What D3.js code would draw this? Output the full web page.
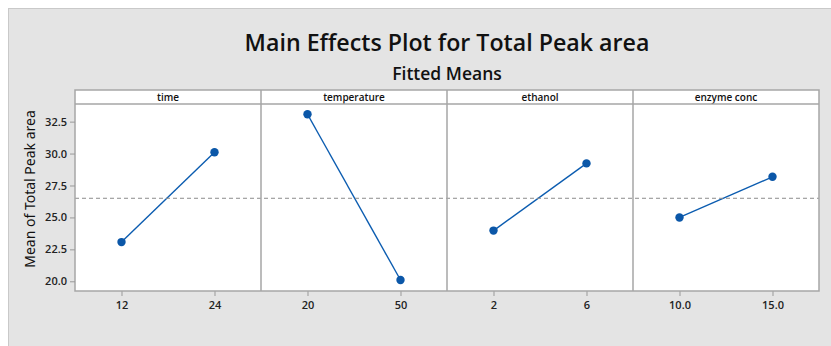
<!DOCTYPE html>
<html>
<head>
<meta charset="utf-8">
<script src="https://cdn.jsdelivr.net/npm/d3@7"></script>
<style>
  html, body { margin: 0; padding: 0; background: #fff; }
  svg { display: block; font-family: "Noto Sans", "Open Sans", sans-serif; }
</style>
</head>
<body>
<svg id="chart" width="831" height="346"></svg>
<script>
// Factors and their two levels
const factors = ["time", "temperature", "ethanol", "enzyme conc"];
const levels = [["12", "24"], ["20", "50"], ["2", "6"], ["10.0", "15.0"]];
// Fitted means of Total Peak area at each level
const means = [[23.07, 30.10], [33.08, 20.10], [23.97, 29.23], [25.00, 28.18]];
const grandMean = 26.5;
const yTicks = [20.0, 22.5, 25.0, 27.5, 30.0, 32.5];

const W = 831, H = 346;
const svg = d3.select("#chart");

// Page frame
svg.append("rect").attr("x", 8.5).attr("y", 8.5).attr("width", W).attr("height", H)
  .attr("fill", "#e4e4e4").attr("stroke", "#c9c9c9").attr("stroke-width", 1);

const mLeft = 75, mRight = 819, mTop = 90, stripH = 14, mBottom = 291;
const plotTop = mTop + stripH;

const xPanel = d3.scaleBand().domain(factors).range([mLeft, mRight]).padding(0);
const y = d3.scaleLinear().domain([19.24, 33.88]).range([mBottom, plotTop]);

// Titles
svg.append("text").attr("x", 447).attr("y", 51).attr("text-anchor", "middle")
  .attr("font-family", "'Open Sans', sans-serif").attr("font-weight", 600)
  .attr("font-size", 23.2).attr("fill", "#111").text("Main Effects Plot for Total Peak area");
svg.append("text").attr("x", 447).attr("y", 80).attr("text-anchor", "middle")
  .attr("font-family", "'Open Sans', sans-serif").attr("font-weight", 600)
  .attr("font-size", 17.5).attr("fill", "#111").text("Fitted Means");

// Y axis title
svg.append("text").attr("transform", `translate(35,189) rotate(-90)`)
  .attr("text-anchor", "middle").attr("font-size", 14).attr("fill", "#111")
  .text("Mean of Total Peak area");

// Panels
factors.forEach((f, i) => {
  const x0 = xPanel(f), bw = xPanel.bandwidth();
  const g = svg.append("g");
  g.append("rect").attr("x", x0).attr("y", mTop).attr("width", bw).attr("height", mBottom - mTop)
    .attr("fill", "#fff");
  g.append("text").attr("x", x0 + bw / 2).attr("y", mTop + 11).attr("text-anchor", "middle")
    .attr("font-family", "'Open Sans', sans-serif").attr("font-weight", 600)
    .attr("font-size", 10).attr("fill", "#111").text(f);

  const x = d3.scalePoint().domain(levels[i]).range([x0, x0 + bw]).padding(0.5);

  const xAxis = g.append("g").attr("transform", `translate(0,${mBottom})`)
    .call(d3.axisBottom(x).tickSize(5).tickPadding(5));
  xAxis.select(".domain").remove();
  xAxis.selectAll(".tick line").attr("stroke", "#999");
  xAxis.selectAll(".tick text").attr("font-size", 11).attr("fill", "#222")
    .attr("font-family", "'Open Sans', sans-serif").attr("font-weight", 600);

  const pts = levels[i].map((l, j) => [x(l), y(means[i][j])]);
  g.append("path").attr("d", d3.line()(pts)).attr("fill", "none")
    .attr("stroke", "#0b5cb0").attr("stroke-width", 1.4);
  g.selectAll("circle").data(pts).join("circle")
    .attr("cx", d => d[0]).attr("cy", d => d[1]).attr("r", 4.2).attr("fill", "#0b57a8");
});

// Grand mean reference line
svg.append("line").attr("x1", mLeft).attr("x2", mRight).attr("y1", y(grandMean)).attr("y2", y(grandMean))
  .attr("stroke", "#8c8c8c").attr("stroke-width", 1).attr("stroke-dasharray", "4,3");

// Panel frames
const frame = svg.append("g").attr("fill", "none").attr("stroke", "#a6a6a6").attr("stroke-width", 1.5);
frame.append("rect").attr("x", mLeft).attr("y", mTop).attr("width", mRight - mLeft).attr("height", mBottom - mTop);
frame.append("line").attr("x1", mLeft).attr("x2", mRight).attr("y1", plotTop).attr("y2", plotTop);
factors.slice(1).forEach(f => {
  frame.append("line").attr("x1", xPanel(f)).attr("x2", xPanel(f)).attr("y1", mTop).attr("y2", mBottom);
});

// Y axis
const yAxis = svg.append("g").attr("transform", `translate(${mLeft},0)`)
  .call(d3.axisLeft(y).tickValues(yTicks).tickFormat(d3.format(".1f")).tickSize(5).tickPadding(3));
yAxis.select(".domain").remove();
yAxis.selectAll(".tick line").attr("stroke", "#999");
yAxis.selectAll(".tick text").attr("font-size", 11).attr("fill", "#222")
  .attr("font-family", "'Open Sans', sans-serif").attr("font-weight", 600);
</script>
</body>
</html>
